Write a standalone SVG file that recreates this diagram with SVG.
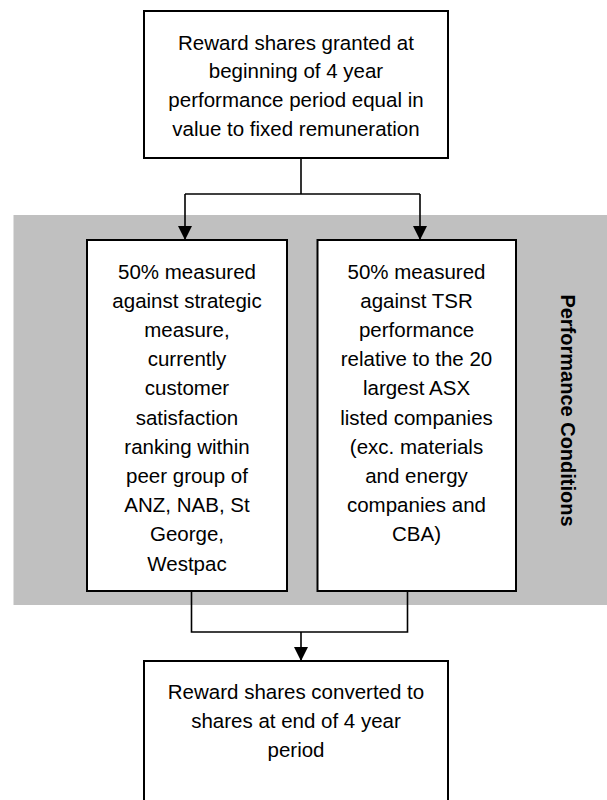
<svg xmlns="http://www.w3.org/2000/svg" width="607" height="800" viewBox="0 0 607 800">
<defs>
<style>
.box{fill:#fff;stroke:#000;stroke-width:2}
.t{font-family:"Liberation Sans",Arial,sans-serif;font-size:20.5px;fill:#000;text-anchor:middle}
.lbl{font-family:"Liberation Sans",Arial,sans-serif;font-size:20px;font-weight:bold;fill:#000;text-anchor:middle}
.c{fill:none;stroke:#000;stroke-width:1.6}
</style>
<marker id="ah" markerUnits="userSpaceOnUse" markerWidth="14" markerHeight="16" refX="13" refY="7" orient="auto">
<path d="M0,0 L14,7 L0,14 Z" fill="#000"/>
</marker>
</defs>
<rect x="0" y="0" width="607" height="800" fill="#fff"/>
<g id="band">
<rect x="13.5" y="215" width="594" height="390" fill="#c0c0c0"/>
<text class="lbl" transform="translate(561,410.5) rotate(90)">Performance Conditions</text>
</g>
<g id="connectors">
<polyline class="c" points="301,158 301,194"/>
<polyline class="c" points="185,194 420,194"/>
<polyline class="c" points="185,194 185,239" marker-end="url(#ah)"/>
<polyline class="c" points="420,194 420,239" marker-end="url(#ah)"/>
<polyline class="c" points="191.5,591 191.5,632 407.5,632 407.5,591"/>
<polyline class="c" points="301,632 301,660" marker-end="url(#ah)"/>
</g>
<g id="top">
<rect class="box" x="144" y="11" width="304" height="147"/>
<text class="t" x="296" y="49.5">Reward shares granted at</text>
<text class="t" x="296" y="78.3">beginning of 4 year</text>
<text class="t" x="296" y="107.1">performance period equal in</text>
<text class="t" x="296" y="135.9">value to fixed remuneration</text>
</g>
<g id="left">
<rect class="box" x="87" y="240" width="200" height="351"/>
<text class="t" x="187" y="278.5">50% measured</text>
<text class="t" x="187" y="307.7">against strategic</text>
<text class="t" x="187" y="336.9">measure,</text>
<text class="t" x="187" y="366.1">currently</text>
<text class="t" x="187" y="395.3">customer</text>
<text class="t" x="187" y="424.5">satisfaction</text>
<text class="t" x="187" y="453.7">ranking within</text>
<text class="t" x="187" y="482.9">peer group of</text>
<text class="t" x="187" y="512.1">ANZ, NAB, St</text>
<text class="t" x="187" y="541.3">George,</text>
<text class="t" x="187" y="570.5">Westpac</text>
</g>
<g id="right">
<rect class="box" x="317.5" y="240" width="198.5" height="351"/>
<text class="t" x="416.5" y="278.5">50% measured</text>
<text class="t" x="416.5" y="307.7">against TSR</text>
<text class="t" x="416.5" y="336.9">performance</text>
<text class="t" x="416.5" y="366.1">relative to the 20</text>
<text class="t" x="416.5" y="395.3">largest ASX</text>
<text class="t" x="416.5" y="424.5">listed companies</text>
<text class="t" x="416.5" y="453.7">(exc. materials</text>
<text class="t" x="416.5" y="482.9">and energy</text>
<text class="t" x="416.5" y="512.1">companies and</text>
<text class="t" x="416.5" y="541.3">CBA)</text>
</g>
<g id="bottom">
<rect class="box" x="144" y="661" width="304" height="150"/>
<text class="t" x="296" y="699">Reward shares converted to</text>
<text class="t" x="296" y="728">shares at end of 4 year</text>
<text class="t" x="296" y="757">period</text>
</g>
</svg>
